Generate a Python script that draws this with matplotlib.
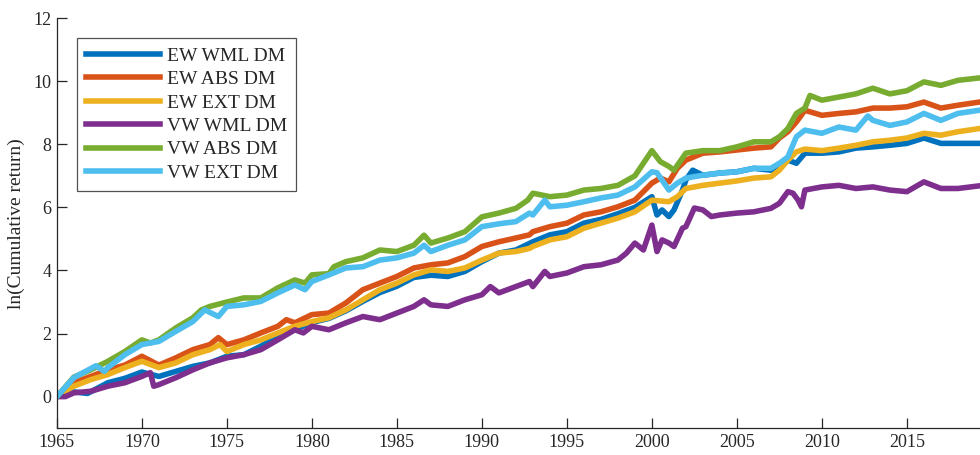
import numpy as np
import matplotlib
matplotlib.use("Agg")
import matplotlib.pyplot as plt

# series: (year, ln cumulative return)
ew_wml_x = [1965, 1965.5, 1966, 1966.8, 1968, 1969, 1970, 1971, 1972, 1973, 1974, 1975, 1976, 1977,
            1978, 1979, 1980, 1981, 1982, 1983, 1984, 1985, 1986, 1987, 1988, 1989, 1990, 1991, 1992,
            1993, 1994, 1995, 1996, 1997, 1998, 1999, 2000, 2000.3, 2000.6, 2001, 2001.3, 2001.8, 2002,
            2002.4, 2003, 2004, 2005, 2006, 2007, 2007.5, 2008, 2008.5, 2009, 2010, 2011, 2012, 2013,
            2014, 2015, 2016, 2017, 2018, 2019.5]
ew_wml_y = [0, 0.1, 0.15, 0.1, 0.44, 0.58, 0.78, 0.64, 0.8, 0.96, 1.07, 1.28, 1.33, 1.6,
            1.91, 2.12, 2.35, 2.48, 2.72, 3.02, 3.3, 3.5, 3.78, 3.85, 3.81, 3.97, 4.28, 4.55, 4.65,
            4.91, 5.13, 5.23, 5.5, 5.62, 5.8, 6.0, 6.34, 5.76, 5.92, 5.71, 5.92, 6.55, 6.87,
            7.18, 7.02, 7.09, 7.13, 7.24, 7.18, 7.29, 7.5, 7.4, 7.72, 7.72, 7.76, 7.88, 7.92,
            7.97, 8.03, 8.2, 8.03, 8.03, 8.03]

ew_abs_x = [1965, 1966, 1967, 1968, 1969, 1970, 1971, 1972, 1973, 1974, 1974.5, 1975, 1976, 1977,
            1978, 1978.5, 1979, 1980, 1981, 1982, 1983, 1984, 1985, 1986, 1987, 1988, 1989, 1990,
            1991, 1992, 1992.8, 1993, 1994, 1995, 1996, 1997, 1998, 1999, 2000, 2000.5, 2001, 2001.5,
            2002, 2003, 2004, 2005, 2006, 2007, 2007.5, 2008, 2008.5, 2009, 2010, 2011, 2012, 2013,
            2014, 2015, 2016, 2017, 2018, 2019.5]
ew_abs_y = [0, 0.44, 0.64, 0.85, 1.0, 1.28, 1.0, 1.23, 1.49, 1.65, 1.87, 1.65, 1.8, 2.02,
            2.23, 2.44, 2.34, 2.6, 2.65, 2.97, 3.39, 3.6, 3.81, 4.08, 4.18, 4.24, 4.44, 4.76,
            4.91, 5.03, 5.13, 5.23, 5.39, 5.5, 5.76, 5.86, 6.02, 6.23, 6.77, 6.93, 6.81, 7.24,
            7.5, 7.72, 7.76, 7.82, 7.88, 7.92, 8.2, 8.4, 8.71, 9.08, 8.92, 8.98, 9.03, 9.15,
            9.15, 9.19, 9.34, 9.15, 9.24, 9.36]

ew_ext_x = [1965, 1966, 1967, 1968, 1969, 1970, 1971, 1972, 1973, 1974, 1974.6, 1975, 1976, 1977,
            1978, 1979, 1980, 1981, 1982, 1983, 1984, 1985, 1986, 1987, 1988, 1989, 1990, 1991, 1992,
            1992.8, 1993, 1994, 1995, 1996, 1997, 1998, 1999, 2000, 2001, 2001.5, 2002, 2003, 2004,
            2005, 2006, 2007, 2007.5, 2008, 2008.5, 2009, 2010, 2011, 2012, 2013, 2014, 2015, 2016,
            2017, 2018, 2019.5]
ew_ext_y = [0, 0.33, 0.54, 0.7, 0.92, 1.12, 0.92, 1.07, 1.33, 1.49, 1.65, 1.43, 1.65, 1.8,
            2.02, 2.23, 2.38, 2.5, 2.75, 3.07, 3.39, 3.6, 3.86, 4.02, 3.97, 4.08, 4.33, 4.55, 4.6,
            4.7, 4.76, 4.97, 5.07, 5.34, 5.5, 5.66, 5.86, 6.23, 6.18, 6.34, 6.6, 6.7, 6.77,
            6.84, 6.93, 6.97, 7.18, 7.5, 7.76, 7.85, 7.8, 7.88, 7.97, 8.08, 8.13, 8.2, 8.35,
            8.29, 8.4, 8.52]

vw_wml_x = [1965, 1965.5, 1966, 1967, 1968, 1969, 1970, 1970.5, 1970.7, 1971, 1972, 1973, 1974,
            1975, 1976, 1977, 1978, 1979, 1979.5, 1980, 1981, 1982, 1983, 1984, 1985, 1986, 1986.6,
            1987, 1988, 1989, 1990, 1990.5, 1991, 1992, 1992.8, 1993, 1993.7, 1994, 1995, 1996, 1997,
            1998, 1998.5, 1999, 1999.5, 2000, 2000.3, 2000.6, 2001, 2001.3, 2001.8, 2002, 2002.5,
            2003, 2003.5, 2004, 2005, 2006, 2007, 2007.5, 2008, 2008.3, 2008.6, 2008.8, 2009, 2010,
            2011, 2012, 2013, 2014, 2015, 2016, 2017, 2018, 2019.5]
vw_wml_y = [0, 0, 0.12, 0.17, 0.33, 0.44, 0.64, 0.76, 0.33, 0.38, 0.6, 0.85, 1.07,
            1.23, 1.33, 1.49, 1.8, 2.12, 2.02, 2.23, 2.12, 2.34, 2.54, 2.44, 2.65, 2.86, 3.07,
            2.91, 2.86, 3.07, 3.23, 3.49, 3.29, 3.49, 3.65, 3.49, 3.97, 3.81, 3.92, 4.12, 4.18,
            4.33, 4.55, 4.87, 4.65, 5.44, 4.6, 4.97, 4.87, 4.76, 5.34, 5.39, 5.98,
            5.92, 5.71, 5.76, 5.82, 5.86, 5.97, 6.13, 6.5, 6.45, 6.23, 6.02, 6.55, 6.65,
            6.7, 6.6, 6.65, 6.55, 6.5, 6.81, 6.6, 6.6, 6.7]

vw_abs_x = [1965, 1966, 1967, 1968, 1969, 1970, 1970.5, 1971, 1972, 1973, 1973.5, 1974, 1975, 1976,
            1977, 1978, 1979, 1979.6, 1980, 1981, 1981.3, 1982, 1983, 1984, 1985, 1986, 1986.6, 1987,
            1988, 1989, 1990, 1991, 1992, 1992.7, 1993, 1994, 1995, 1996, 1997, 1998, 1999, 2000,
            2000.5, 2001, 2001.3, 2002, 2003, 2004, 2005, 2006, 2007, 2007.5, 2008, 2008.5, 2009,
            2009.3, 2010, 2011, 2012, 2013, 2014, 2015, 2016, 2017, 2018, 2019.5]
vw_abs_y = [0, 0.62, 0.85, 1.12, 1.43, 1.8, 1.7, 1.8, 2.18, 2.5, 2.75, 2.86, 3.0, 3.13,
            3.13, 3.45, 3.7, 3.6, 3.86, 3.9, 4.12, 4.28, 4.4, 4.65, 4.6, 4.8, 5.12, 4.87,
            5.03, 5.23, 5.7, 5.82, 5.97, 6.23, 6.45, 6.34, 6.39, 6.55, 6.6, 6.7, 7.0, 7.8,
            7.45, 7.3, 7.18, 7.72, 7.8, 7.8, 7.92, 8.08, 8.08, 8.24, 8.5, 8.98, 9.15,
            9.55, 9.4, 9.5, 9.6, 9.78, 9.6, 9.7, 9.98, 9.87, 10.03, 10.12]

vw_ext_x = [1965, 1966, 1967.3, 1967.8, 1968, 1969, 1970, 1971, 1972, 1973, 1973.7, 1974.5, 1975,
            1976, 1977, 1978, 1979, 1979.6, 1980, 1981, 1982, 1983, 1984, 1985, 1986, 1986.6, 1987,
            1988, 1989, 1990, 1991, 1992, 1992.8, 1993, 1993.7, 1994, 1995, 1996, 1997, 1998, 1999,
            2000, 2000.3, 2001, 2001.5, 2002, 2003, 2004, 2005, 2006, 2007, 2007.5, 2008, 2008.5,
            2009, 2010, 2011, 2012, 2012.7, 2013, 2014, 2015, 2016, 2017, 2018, 2019.5]
vw_ext_y = [0, 0.6, 0.98, 0.8, 0.92, 1.33, 1.65, 1.75, 2.07, 2.38, 2.75, 2.54, 2.86,
            2.91, 3.02, 3.29, 3.54, 3.39, 3.65, 3.86, 4.08, 4.12, 4.33, 4.4, 4.55, 4.8, 4.6,
            4.8, 4.97, 5.39, 5.48, 5.55, 5.82, 5.76, 6.23, 6.02, 6.07, 6.18, 6.3, 6.39, 6.65,
            7.13, 7.1, 6.55, 6.77, 6.93, 7.02, 7.09, 7.13, 7.24, 7.24, 7.4, 7.6, 8.24,
            8.45, 8.35, 8.55, 8.45, 8.9, 8.76, 8.6, 8.71, 8.98, 8.76, 8.98, 9.1]

series = [
    ("EW WML DM", ew_wml_x, ew_wml_y, "#0072BD"),
    ("EW ABS DM", ew_abs_x, ew_abs_y, "#D95319"),
    ("EW EXT DM", ew_ext_x, ew_ext_y, "#EDB120"),
    ("VW WML DM", vw_wml_x, vw_wml_y, "#7E2F8E"),
    ("VW ABS DM", vw_abs_x, vw_abs_y, "#77AC30"),
    ("VW EXT DM", vw_ext_x, vw_ext_y, "#4DBEEE"),
]

plt.rcParams['font.family'] = ['Liberation Serif', 'DejaVu Serif']
axis_col = "#262626"

fig = plt.figure(figsize=(9.8, 4.55), dpi=100)
ax = fig.add_axes([0.058, 0.059, 0.942, 0.901])

for name, x, y, col in series:
    ax.plot(x, y, color=col, linewidth=4.0, label=name, solid_joinstyle='round')

ax.set_xlim(1965, 2019.3)
ax.set_ylim(-1, 12)
ax.set_xticks(np.arange(1965, 2016, 5))
ax.set_yticks(np.arange(0, 13, 2))
ax.tick_params(direction='in', length=7, width=0.9, colors=axis_col, labelsize=13, pad=4)
for s in ['top', 'right']:
    ax.spines[s].set_visible(False)
for s in ['left', 'bottom']:
    ax.spines[s].set_color(axis_col)
    ax.spines[s].set_linewidth(0.9)
ax.set_ylabel("ln(Cumulative return)", fontsize=14, color=axis_col, labelpad=6)

leg = ax.legend(loc='upper left', bbox_to_anchor=(0.0217, 0.951), borderaxespad=0,
                fontsize=14, frameon=True, fancybox=False, handlelength=3.8,
                handletextpad=0.4, labelspacing=0.3, borderpad=0.45)
leg.get_frame().set_edgecolor(axis_col)
leg.get_frame().set_linewidth(0.9)
for t in leg.get_texts():
    t.set_color(axis_col)

fig.savefig("out.png", dpi=100)
